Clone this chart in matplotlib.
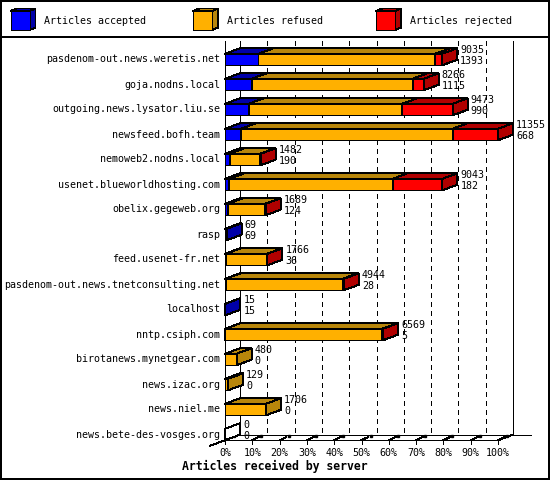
import matplotlib
matplotlib.use("Agg")
import matplotlib.pyplot as plt
from matplotlib.patches import Polygon, Rectangle

# data (top to bottom)
servers = ["pasdenom-out.news.weretis.net", "goja.nodns.local", "outgoing.news.lysator.liu.se",
           "newsfeed.bofh.team", "nemoweb2.nodns.local", "usenet.blueworldhosting.com",
           "obelix.gegeweb.org", "rasp", "feed.usenet-fr.net",
           "pasdenom-out.news.tnetconsulting.net", "localhost", "nntp.csiph.com",
           "birotanews.mynetgear.com", "news.izac.org", "news.niel.me", "news.bete-des-vosges.org"]
total_labels = [9035, 8266, 9473, 11355, 1482, 9043, 1689, 69, 1766, 4944, 15, 6569, 480, 129, 1706, 0]
accepted = [1393, 1115, 990, 668, 190, 182, 124, 69, 36, 28, 15, 5, 0, 0, 0, 0]
refused = [7352, 6686, 6383, 8797, 1272, 6791, 1550, 0, 1710, 4876, 0, 6534, 480, 129, 1706, 0]
rejected = [290, 465, 2100, 1890, 20, 2070, 15, 0, 20, 40, 0, 30, 0, 0, 0, 0]
series_names = ["Articles accepted", "Articles refused", "Articles rejected"]
tick_values = [0, 10, 20, 30, 40, 50, 60, 70, 80, 90, 100]
tick_labels = ["0%", "10%", "20%", "30%", "40%", "50%", "60%", "70%", "80%", "90%", "100%"]

front_colors = ["#0000FF", "#FFB000", "#FF0000"]
dark_colors = ["#0000A8", "#B8860B", "#B00000"]

plt.rcParams["lines.antialiased"] = False
plt.rcParams["patch.antialiased"] = False

# layout in pixels
W, H = 550, 480
X0 = 225            # 0% on the front plane
PX_PCT = 2.73       # pixels per percent
ROW0, ROW_STEP = 59.5, 25
DX = 15 / PX_PCT                # depth, in percent
DY = 5.5 / ROW_STEP             # depth, in rows
HALF = 5.75 / ROW_STEP          # half height of bar front
LW = 0.7
MONO = "DejaVu Sans Mono"
FS = 7.2

fig = plt.figure(figsize=(W / 100, H / 100), dpi=100)
fig.patch.set_facecolor("white")

ax = fig.add_axes([0, 0, 1, 1])
ax.set_xlim(-X0 / PX_PCT, (W - X0) / PX_PCT)
ax.set_ylim((H - ROW0) / ROW_STEP, -ROW0 / ROW_STEP)
ax.axis("off")

n = len(servers)
vmax = max(total_labels)
front_floor = (n - 1) + HALF
back_floor = front_floor - DY
top = (41 - ROW0) / ROW_STEP

# walls, floor, grid
ax.plot([0, 0], [top, front_floor], color="black", lw=LW, zorder=2)
ax.plot([DX, DX], [top, back_floor], color="black", lw=LW, zorder=2)
ax.plot([100 + DX, 100 + DX], [top, back_floor], color="black", lw=LW, zorder=2)
ax.plot([DX, 100 + 2 * DX + 1], [back_floor, back_floor], color="black", lw=LW, zorder=2)
ax.plot([0, 100], [front_floor, front_floor], color="black", lw=LW, zorder=2)
ax.plot([100, 100 + DX], [front_floor, back_floor], color="black", lw=LW, zorder=2)
ax.plot([-DX, 0], [front_floor + DY, front_floor], color="black", lw=LW, zorder=2)
for t in tick_values[1:-1]:
    ax.plot([t + DX, t + DX], [top, back_floor], color="black", lw=LW,
            linestyle=(0, (5, 5)), zorder=1)
for t, lab in zip(tick_values, tick_labels):
    ax.plot([t, t], [front_floor, front_floor + 4 / ROW_STEP], color="black", lw=LW, zorder=2)
    ax.plot([t, t + DX * 0.45], [front_floor, front_floor - DY * 0.6], color="black", lw=LW, zorder=2)
    ax.plot([t + DX * 0.6], [back_floor + DY * 0.2], marker="s", ms=2, color="black", zorder=2)
    ax.text(t, (452.5 - ROW0) / ROW_STEP, lab, ha="center", va="center",
            family=MONO, fontsize=FS)


def box(left, right, yc, face, dark, z):
    y0, y1 = yc - HALF, yc + HALF
    ax.add_patch(Rectangle((left, y0), right - left, y1 - y0, facecolor=face,
                           edgecolor="black", lw=LW, zorder=z))
    ax.add_patch(Polygon([(left, y0), (right, y0), (right + DX, y0 - DY), (left + DX, y0 - DY)],
                         closed=True, facecolor=dark, edgecolor="black", lw=LW, zorder=z))
    ax.add_patch(Polygon([(right, y0), (right, y1), (right + DX, y1 - DY), (right + DX, y0 - DY)],
                         closed=True, facecolor=dark, edgecolor="black", lw=LW, zorder=z))


for i in range(n):
    segs = [accepted[i], refused[i], rejected[i]]
    left = 0.0
    z = 3
    drawn = False
    for s, v in enumerate(segs):
        if v == 0:
            continue
        right = left + v / vmax * 100
        box(left, right, i, front_colors[s], dark_colors[s], z)
        z += 0.01
        left = right
        drawn = True
    if not drawn:
        box(0, 0, i, "white", "white", z)
    end = total_labels[i] / vmax * 100
    tx = end + DX + 3 / PX_PCT
    ax.text(tx, i - 9.5 / ROW_STEP, str(total_labels[i]), ha="left", va="center",
            family=MONO, fontsize=FS, zorder=5)
    ax.text(tx, i + 1.8 / ROW_STEP, str(accepted[i]), ha="left", va="center",
            family=MONO, fontsize=FS, zorder=5)
    ax.text(-5 / PX_PCT, i, servers[i], ha="right", va="center",
            family=MONO, fontsize=FS)

fig.text(0.5, 1 - 466 / H, "Articles received by server", ha="center", va="center",
         family=MONO, fontsize=8.3, fontweight="bold")

# legend strip and frame, in pixel units
lg = fig.add_axes([0, 0, 1, 1], facecolor="none")
lg.set_xlim(0, W)
lg.set_ylim(H, 0)
lg.axis("off")
lg.add_patch(Rectangle((0.5, 0.5), W - 1.5, H - 1.5, fill=False, edgecolor="black", lw=1.2))
lg.plot([0, W], [36.5, 36.5], color="black", lw=1.2)
for k, (name, x) in enumerate(zip(series_names, [10.5, 193, 376])):
    s, d, dy = 19, 6, 2.5
    lg.add_patch(Polygon([(x, 11), (x + s, 11), (x + s + d, 11 - dy), (x + d, 11 - dy)],
                         closed=True, facecolor=dark_colors[k], edgecolor="black", lw=LW))
    lg.add_patch(Polygon([(x + s, 11), (x + s, 11 + s), (x + s + d, 11 + s - dy), (x + s + d, 11 - dy)],
                         closed=True, facecolor=dark_colors[k], edgecolor="black", lw=LW))
    lg.add_patch(Rectangle((x, 11), s, s, facecolor=front_colors[k], edgecolor="black", lw=LW))
    lg.text(x + 34, 21, name, ha="left", va="center", family=MONO, fontsize=FS)

fig.savefig("out.png", dpi=100)
